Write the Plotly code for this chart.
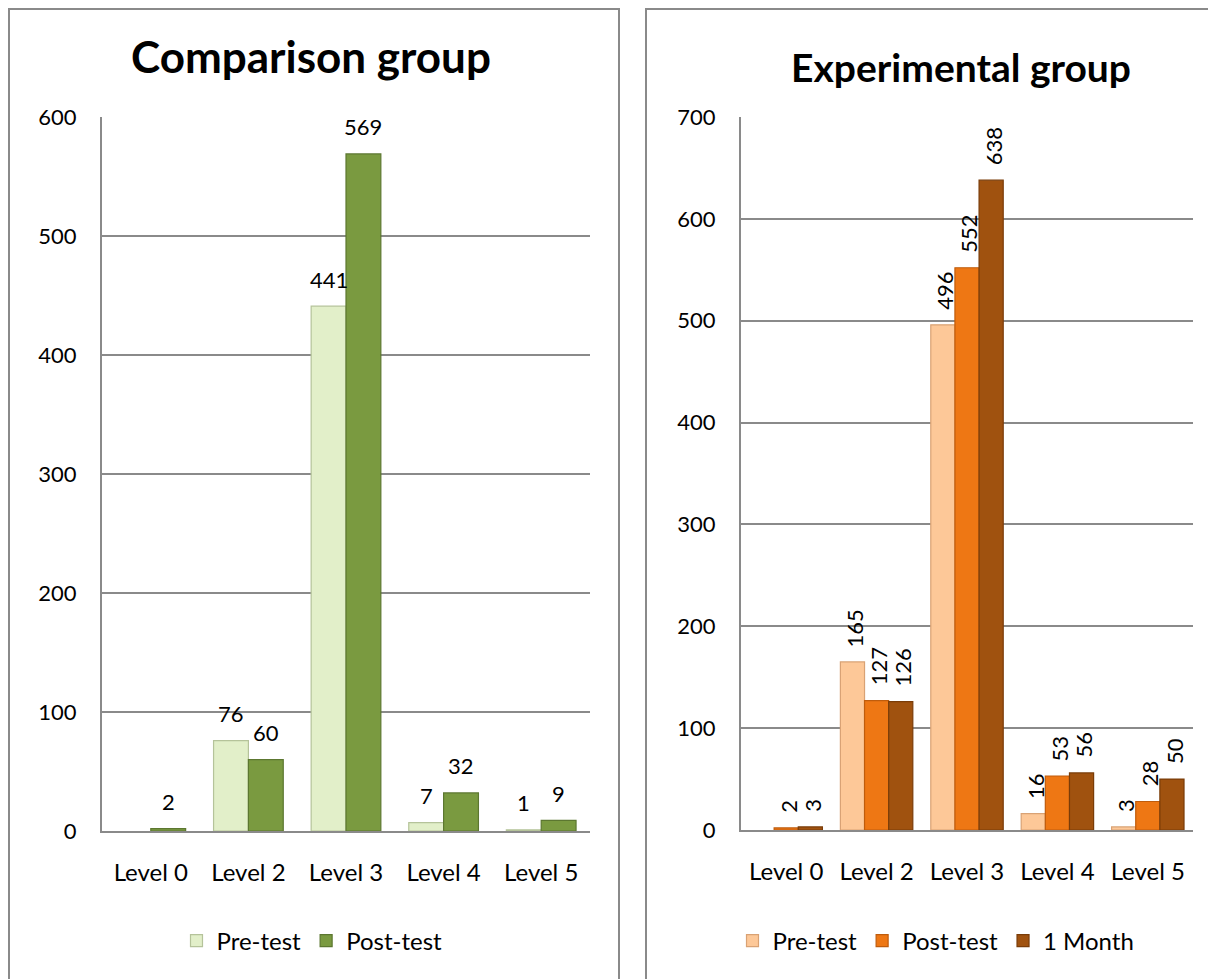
import plotly.graph_objects as go

W, H = 1216, 979
OFF = 8  # page body margin compensation (figure is drawn at page offset 8,8)

categories = ["Level 0", "Level 2", "Level 3", "Level 4", "Level 5"]

# Comparison group
comp_pre = [None, 76, 441, 7, 1]
comp_post = [2, 60, 569, 32, 9]

# Experimental group
exp_pre = [None, 165, 496, 16, 3]
exp_post = [2, 127, 552, 53, 28]
exp_month = [3, 126, 638, 56, 50]

comp_ticks = [0, 100, 200, 300, 400, 500, 600]
exp_ticks = [0, 100, 200, 300, 400, 500, 600, 700]

FONT = "Lato"
GRID = "#8a8a8a"
FS = 24      # category / legend text
FN = 22      # numbers

# plot-area geometry in page pixels
L_X0, L_X1, L_Y0, L_Y1 = 102, 590, 831, 117
R_X0, R_X1, R_Y0, R_Y1 = 741, 1193, 830, 117

fig = go.Figure()
annotations = []

def add_group(series, xa, ya, legend, width, rotated, plot_w):
    n = len(series)
    cat_px = plot_w / len(categories)
    for i, (name, vals, color, line) in enumerate(series):
        offset = -width * n / 2 + i * width
        fig.add_trace(go.Bar(
            x=categories, y=vals, name=name,
            width=width, offset=offset,
            marker=dict(color=color, line=dict(color=line, width=1.2)),
            xaxis=xa, yaxis=ya, legend=legend,
            hoverinfo="x+y+name",
        ))
        shift = (offset + width / 2) * cat_px
        for c, v in zip(categories, vals):
            if v is None:
                continue
            if rotated:
                annotations.append(dict(
                    x=c, y=v, xref=xa, yref=ya, text=str(v), showarrow=False,
                    textangle=-90, xanchor="center", yanchor="bottom",
                    xshift=shift + 2, yshift=13,
                    font=dict(family=FONT, size=FN, color="#000000")))
            else:
                annotations.append(dict(
                    x=c, y=v, xref=xa, yref=ya, text=str(v), showarrow=False,
                    xanchor="center", yanchor="middle",
                    xshift=shift, yshift=27,
                    font=dict(family=FONT, size=FN, color="#000000")))

add_group([
    ("Pre-test", comp_pre, "#e2efc9", "#b5c39a"),
    ("Post-test", comp_post, "#7a9a40", "#5c7730"),
], "x", "y", "legend", 0.357, False, L_X1 - L_X0)

add_group([
    ("Pre-test", exp_pre, "#fdc898", "#d9a274"),
    ("Post-test", exp_post, "#ee7714", "#bf5c0c"),
    ("1 Month", exp_month, "#a0520f", "#7a3c08"),
], "x2", "y2", "legend2", 0.267, True, R_X1 - R_X0)

def px(v):
    return (v - OFF) / W

def py(v):
    return 1 - (v - OFF) / H

axis_common = dict(
    showline=True, linecolor=GRID, linewidth=2,
    ticks="", zeroline=False, fixedrange=True, automargin=False,
)
xfont = dict(family=FONT, size=FS, color="#000000")
yfont = dict(family=FONT, size=FN, color="#000000")

annotations += [
    dict(text="<b>Comparison group</b>", x=px(311), y=py(56), xref="paper", yref="paper",
         xanchor="center", yanchor="middle", showarrow=False,
         font=dict(family=FONT, size=44, color="#000000")),
    dict(text="<b>Experimental group</b>", x=px(961), y=py(67), xref="paper", yref="paper",
         xanchor="center", yanchor="middle", showarrow=False,
         font=dict(family=FONT, size=39, color="#000000")),
]

fig.update_layout(
    width=W, height=H,
    margin=dict(l=0, r=0, t=0, b=0, autoexpand=False),
    paper_bgcolor="white", plot_bgcolor="white",
    barmode="group",
    font=dict(family=FONT, color="#000000"),
    showlegend=True,
    xaxis=dict(domain=[px(L_X0), px(L_X1)], anchor="y", ticklabelstandoff=19, showgrid=False,
               tickfont=xfont, **axis_common),
    yaxis=dict(domain=[py(L_Y0), py(L_Y1)], anchor="x", range=[0, 600], tickvals=comp_ticks,
               showgrid=True, gridcolor=GRID, gridwidth=1.5, ticklabelstandoff=19,
               tickfont=yfont, **axis_common),
    xaxis2=dict(domain=[px(R_X0), px(R_X1)], anchor="y2", ticklabelstandoff=19, showgrid=False,
                tickfont=xfont, **axis_common),
    yaxis2=dict(domain=[py(R_Y0), py(R_Y1)], anchor="x2", range=[0, 700], tickvals=exp_ticks,
                showgrid=True, gridcolor=GRID, gridwidth=1.5, ticklabelstandoff=19,
                tickfont=yfont, **axis_common),
    legend=dict(orientation="h", x=px(312), xanchor="center", y=py(941), yanchor="middle",
                font=dict(family=FONT, size=FS), bgcolor="rgba(0,0,0,0)"),
    legend2=dict(orientation="h", x=px(936), xanchor="center", y=py(941), yanchor="middle",
                 font=dict(family=FONT, size=FS), bgcolor="rgba(0,0,0,0)"),
    annotations=annotations,
    shapes=[
        dict(type="rect", xref="paper", yref="paper", x0=1 / W, x1=px(619), y0=py(1000), y1=1 - 1 / H,
             line=dict(color=GRID, width=2), fillcolor="rgba(0,0,0,0)", layer="below"),
        dict(type="rect", xref="paper", yref="paper", x0=px(646), x1=px(1240), y0=py(1000), y1=1 - 1 / H,
             line=dict(color=GRID, width=2), fillcolor="rgba(0,0,0,0)", layer="below"),
    ],
)

fig.write_html("out.html")
